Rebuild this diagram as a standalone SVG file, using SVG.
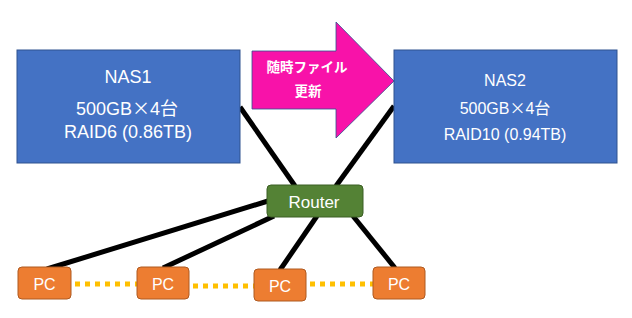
<svg xmlns="http://www.w3.org/2000/svg" width="632" height="318" viewBox="0 0 632 318">
<style>
.nas{fill:#4472C4;stroke:#2F528F;stroke-width:1}
.pc{fill:#ED7D31;stroke:#AE5A21;stroke-width:1}
.rt{fill:#548235;stroke:#3B5E24;stroke-width:1}
.t{fill:#fff;font-family:"Liberation Sans","Noto Sans CJK JP",sans-serif;text-anchor:middle}
.cjk{font-family:"Noto Sans CJK JP",sans-serif}
.wire{stroke:#000;stroke-width:5;fill:none}
.dot{stroke:#FFC000;stroke-width:5;stroke-dasharray:5 5;fill:none}
</style>
<rect width="632" height="318" fill="#fff"/>
<g id="connectors">
<line class="wire" x1="240" y1="107" x2="295" y2="186"/>
<line class="wire" x1="394" y1="106" x2="336" y2="186"/>
<line class="wire" x1="268" y1="201" x2="47" y2="269"/>
<line class="wire" x1="274" y1="216" x2="163" y2="268"/>
<line class="wire" x1="317" y1="216" x2="280" y2="270"/>
<line class="wire" x1="353" y1="216" x2="395" y2="268"/>
<line class="dot" x1="75" y1="284" x2="137" y2="284"/>
<line class="dot" x1="193" y1="286" x2="254" y2="286"/>
<line class="dot" x1="310" y1="284" x2="373" y2="284"/>
</g>
<g id="nas1">
<rect class="nas" x="17" y="50" width="223" height="113"/>
<text class="t" x="128" y="83" font-size="18">NAS1</text>
<text class="t" x="127" y="115" font-size="18">500GB<tspan class="cjk">×</tspan>4<tspan class="cjk">台</tspan></text>
<text class="t" x="128" y="138" font-size="18">RAID6 (0.86TB)</text>
</g>
<g id="arrow">
<polygon points="252,51 336,51 336,22 394,81 336,138 336,109 252,109" fill="#F812A9" stroke="#2F528F" stroke-width="0.8"/>
<text class="t cjk" x="307" y="72" font-size="13.5" font-weight="bold">随時ファイル</text>
<text class="t cjk" x="308" y="96" font-size="13.5" font-weight="bold">更新</text>
</g>
<g id="nas2">
<rect class="nas" x="394" y="50" width="223" height="113"/>
<text class="t" x="505" y="86" font-size="16">NAS2</text>
<text class="t" x="505" y="114" font-size="16">500GB<tspan class="cjk">×</tspan>4<tspan class="cjk">台</tspan></text>
<text class="t" x="505" y="140" font-size="16">RAID10 (0.94TB)</text>
</g>
<g id="router">
<rect class="rt" x="267" y="185" width="96" height="32" rx="4"/>
<text class="t" x="314" y="207.5" font-size="17">Router</text>
</g>
<g id="pc1">
<rect class="pc" x="18" y="267" width="53" height="32" rx="4"/>
<text class="t" x="44.5" y="289.5" font-size="16">PC</text>
</g>
<g id="pc2">
<rect class="pc" x="137" y="267" width="52" height="32" rx="4"/>
<text class="t" x="163" y="289.5" font-size="16">PC</text>
</g>
<g id="pc3">
<rect class="pc" x="254" y="269" width="52" height="32" rx="4"/>
<text class="t" x="280" y="291.5" font-size="16">PC</text>
</g>
<g id="pc4">
<rect class="pc" x="373" y="267" width="52" height="32" rx="4"/>
<text class="t" x="399" y="289.5" font-size="16">PC</text>
</g>
</svg>
